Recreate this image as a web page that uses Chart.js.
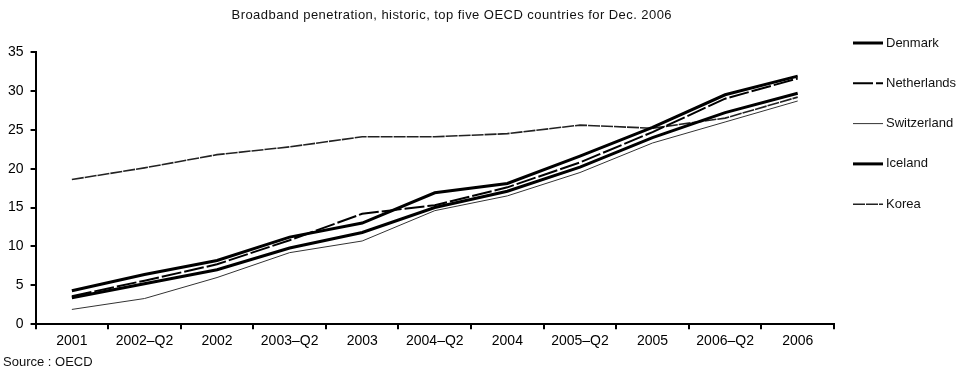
<!DOCTYPE html>
<html>
<head>
<meta charset="utf-8">
<script src="https://cdn.jsdelivr.net/npm/chart.js@4"></script>
<style>
  html, body { margin: 0; padding: 0; background: #fff; }
  #wrap { width: 966px; height: 370px; }
</style>
</head>
<body>
<div id="wrap"><canvas id="c" width="966" height="370"></canvas></div>
<script>
// Broadband subscribers per 100 inhabitants, half-yearly
const periods = ['2001', '2002\u2013Q2', '2002', '2003\u2013Q2', '2003', '2004\u2013Q2', '2004', '2005\u2013Q2', '2005', '2006\u2013Q2', '2006'];
const denmark     = [4.3, 6.4, 8.2, 11.2, 13.0, 16.9, 18.1, 21.6, 25.3, 29.5, 31.9];
const netherlands = [3.6, 5.6, 7.7, 10.8, 14.2, 15.3, 17.6, 20.8, 24.7, 29.0, 31.6];
const switzerland = [1.9, 3.3, 6.0, 9.2, 10.7, 14.6, 16.5, 19.5, 23.3, 26.0, 28.7];
const iceland     = [3.4, 5.2, 7.0, 9.8, 11.8, 15.0, 17.1, 20.2, 24.0, 27.2, 29.7];
const korea       = [18.6, 20.1, 21.8, 22.8, 24.1, 24.1, 24.5, 25.6, 25.2, 26.5, 29.2];
const yTicks = [0, 5, 10, 15, 20, 25, 30, 35];

const TITLE = 'Broadband penetration, historic, top five OECD countries for Dec. 2006';
const SOURCE = 'Source : OECD';
const FONT = '"Liberation Sans", Arial, sans-serif';

// title, side legend and source line drawn directly on the canvas
const annotations = {
  id: 'annotations',
  afterDraw(chart) {
    const { ctx, chartArea } = chart;
    ctx.save();
    ctx.fillStyle = '#111';
    ctx.font = '13px ' + FONT;
    ctx.letterSpacing = '0.45px';
    ctx.textAlign = 'center';
    ctx.textBaseline = 'middle';
    ctx.fillText(TITLE, (chartArea.left + chartArea.right) / 2 + 17, 15);
    ctx.letterSpacing = '0px';

    ctx.textAlign = 'left';
    ctx.font = '13px ' + FONT;
    ctx.fillText(SOURCE, 3, 362);

    const x0 = chartArea.right + 19;
    const x1 = x0 + 30;
    chart.data.datasets.forEach((ds, i) => {
      const y = 43 + i * 40.3;
      ctx.save();
      ctx.strokeStyle = ds.borderColor;
      ctx.lineWidth = ds.borderWidth;
      ctx.setLineDash(ds.borderDash || []);
      ctx.beginPath();
      ctx.moveTo(x0, y);
      ctx.lineTo(x1, y);
      ctx.stroke();
      ctx.restore();
      ctx.fillStyle = '#111';
      ctx.fillText(ds.label, x1 + 3, y);
    });
    ctx.restore();
  }
};

const series = [
  { label: 'Denmark',     data: denmark,     borderWidth: 3,   borderDash: [],       borderColor: '#000' },
  { label: 'Netherlands', data: netherlands, borderWidth: 2,   borderDash: [20, 3],  borderColor: '#000' },
  { label: 'Switzerland', data: switzerland, borderWidth: 1,   borderDash: [],       borderColor: '#333' },
  { label: 'Iceland',     data: iceland,     borderWidth: 3,   borderDash: [],       borderColor: '#000' },
  { label: 'Korea',       data: korea,       borderWidth: 1.6, borderDash: [12, 1],  borderColor: '#222' }
];

new Chart(document.getElementById('c'), {
  type: 'line',
  data: {
    labels: periods,
    datasets: series.map(s => ({
      ...s,
      fill: false,
      tension: 0,
      pointRadius: 0,
      pointHoverRadius: 0
    }))
  },
  options: {
    responsive: false,
    animation: false,
    events: [],
    layout: { padding: { top: 52, left: 1, right: 132, bottom: 16 } },
    plugins: {
      legend: { display: false },
      title: { display: false },
      tooltip: { enabled: false }
    },
    scales: {
      x: {
        type: 'category',
        offset: true,
        grid: {
          offset: true,
          drawOnChartArea: false,
          drawTicks: true,
          tickLength: 5,
          color: '#000',
          lineWidth: 2
        },
        border: { color: '#000', width: 2 },
        ticks: {
          color: '#000',
          font: { family: FONT, size: 14 },
          padding: 4,
          maxRotation: 0,
          autoSkip: false
        }
      },
      y: {
        min: 0,
        max: 35,
        afterBuildTicks(scale) { scale.ticks = yTicks.map(v => ({ value: v })); },
        grid: {
          drawOnChartArea: false,
          drawTicks: true,
          tickLength: 5,
          color: '#000',
          lineWidth: 2
        },
        border: { color: '#000', width: 2 },
        ticks: {
          color: '#000',
          font: { family: FONT, size: 14 },
          padding: 7
        }
      }
    }
  },
  plugins: [annotations]
});
</script>
</body>
</html>
